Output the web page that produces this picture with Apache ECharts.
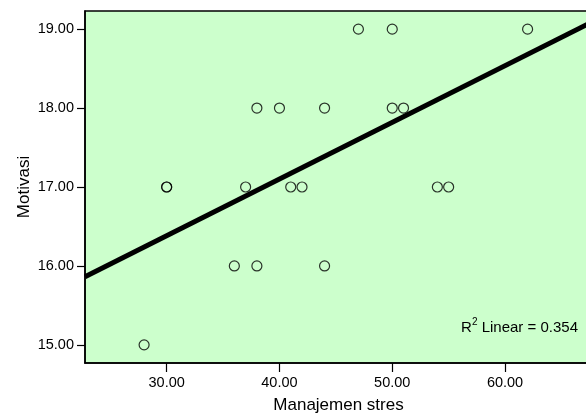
<!DOCTYPE html>
<html>
<head>
<meta charset="utf-8">
<script src="https://cdn.jsdelivr.net/npm/echarts@6/dist/echarts.min.js"></script>
<style>html,body{margin:0;padding:0;background:#fff}#c{width:586px;height:415px}</style>
</head>
<body>
<div id="c"></div>
<script>
// Data
var manajemenStres = [28, 30, 30, 36, 37, 38, 38, 40, 41, 42, 44, 44, 47, 50, 50, 51, 54, 55, 62];
var motivasi      = [15, 17, 17, 16, 17, 16, 18, 18, 17, 17, 18, 16, 19, 19, 18, 18, 17, 17, 19];
var xTicks = [30, 40, 50, 60];
var yTicks = [15, 16, 17, 18, 19];
var xRange = [22.76, 67.71];
var yRange = [14.77, 19.23];
var r2Text = '0.354';

var points = manajemenStres.map(function (x, i) { return [x, motivasi[i]]; });
// least squares fit line
var n = points.length, mx = 0, my = 0;
points.forEach(function (p) { mx += p[0]; my += p[1]; });
mx /= n; my /= n;
var sxy = 0, sxx = 0;
points.forEach(function (p) { sxy += (p[0] - mx) * (p[1] - my); sxx += (p[0] - mx) * (p[0] - mx); });
var slope = sxy / sxx, icpt = my - slope * mx;
var fit = [[xRange[0], icpt + slope * xRange[0]], [xRange[1], icpt + slope * xRange[1]]];

var font = '"Liberation Sans", Arial, sans-serif';
var chart = echarts.init(document.getElementById('c'));
chart.setOption({
  animation: false,
  backgroundColor: '#ffffff',
  grid: { left: 85, top: 11, right: -6, bottom: 52, show: true, outerBoundsMode: 'none', containLabel: false,
          backgroundColor: '#ccffcc', borderColor: '#000', borderWidth: 1.5 },
  xAxis: {
    type: 'value', min: xRange[0], max: xRange[1],
    name: 'Manajemen stres', nameLocation: 'middle', nameGap: 34,
    nameTextStyle: { fontFamily: font, fontSize: 17, color: '#000' },
    splitLine: { show: false },
    axisLine: { show: true, onZero: false, lineStyle: { color: '#000', width: 1.5 } },
    axisTick: { show: true, length: 9, customValues: xTicks, lineStyle: { color: '#000', width: 1.2 } },
    axisLabel: { customValues: xTicks, margin: 12, fontFamily: font, fontSize: 14.5, color: '#000', formatter: function (v) { return v.toFixed(2); } }
  },
  yAxis: {
    type: 'value', min: yRange[0], max: yRange[1],
    name: 'Motivasi', nameLocation: 'middle', nameGap: 52, nameMoveOverlap: false,
    nameTextStyle: { fontFamily: font, fontSize: 17, color: '#000' },
    splitLine: { show: false },
    axisLine: { show: true, onZero: false, lineStyle: { color: '#000', width: 1.5 } },
    axisTick: { show: true, length: 8, customValues: yTicks, lineStyle: { color: '#000', width: 1.2 } },
    axisLabel: { customValues: yTicks, margin: 11, fontFamily: font, fontSize: 14.5, color: '#000', formatter: function (v) { return v.toFixed(2); } }
  },
  series: [
    {
      type: 'line', data: fit, symbol: 'none', silent: true, z: 3,
      lineStyle: { color: '#000', width: 5 }
    },
    {
      type: 'scatter', data: points, symbol: 'circle', symbolSize: 10, z: 4,
      itemStyle: { color: 'rgba(0,0,0,0)', borderColor: '#000', borderWidth: 1.2 }
    }
  ],
  graphic: [{
    type: 'text', right: 8, top: 317, z: 10,
    style: {
      text: '{a|R}{s|2}{a| Linear = ' + r2Text + '}',
      rich: {
        a: { fontFamily: font, fontSize: 15, fill: '#000', verticalAlign: 'bottom', lineHeight: 18 },
        s: { fontFamily: font, fontSize: 10, fill: '#000', verticalAlign: 'top', lineHeight: 14 }
      }
    }
  }]
});
</script>
</body>
</html>
